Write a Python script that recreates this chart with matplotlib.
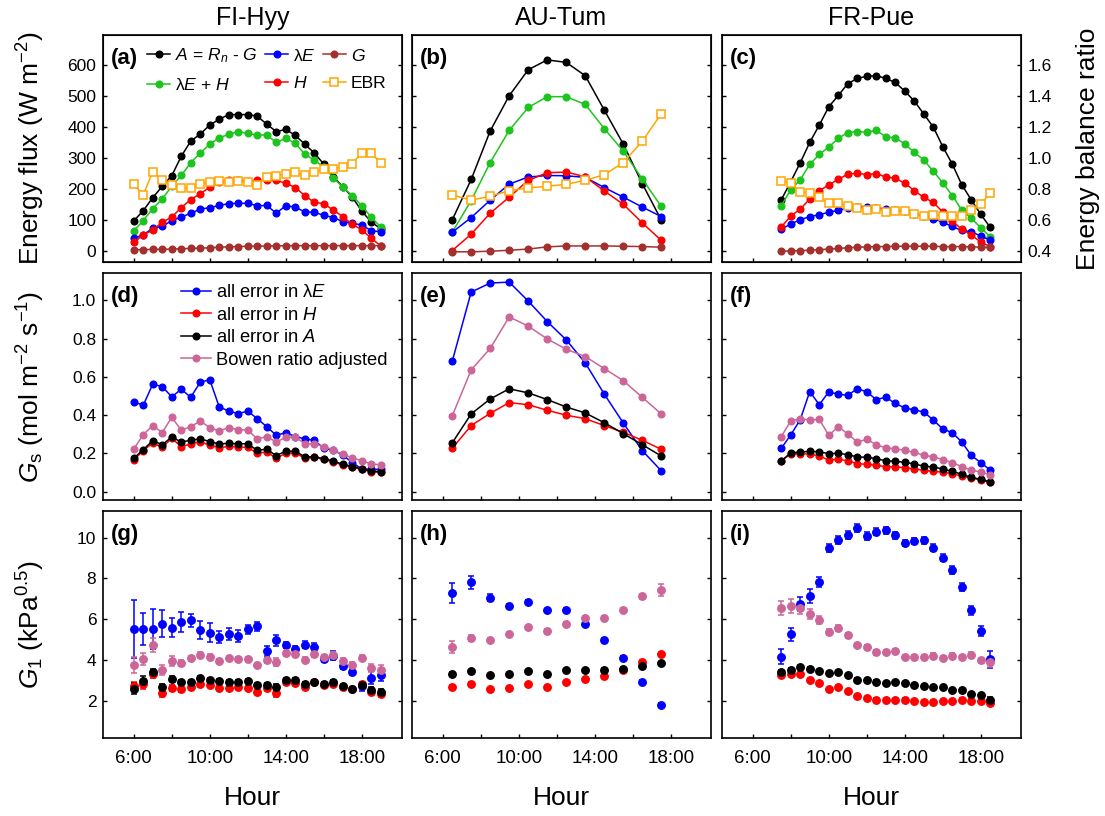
import numpy as np
import matplotlib as mpl
mpl.use('Agg')
import matplotlib.pyplot as plt
from matplotlib.ticker import FormatStrFormatter

plt.rcParams['font.family'] = ['Liberation Sans', 'DejaVu Sans']
plt.rcParams['mathtext.fontset'] = 'custom'
plt.rcParams['mathtext.rm'] = 'Liberation Sans'
plt.rcParams['mathtext.it'] = 'Liberation Sans:italic'
plt.rcParams['mathtext.bf'] = 'Liberation Sans:bold'

# ── data ─────────────────────────────────────────────────────────────────────
sites = ['FI-Hyy', 'AU-Tum', 'FR-Pue']
panel_tags = [['(a)', '(b)', '(c)'], ['(d)', '(e)', '(f)'], ['(g)', '(h)', '(i)']]

hours_hyy = np.arange(6.0, 19.01, 0.5)   # 27 half-hours
hours_tum = np.arange(6.5, 17.51, 1.0)   # 12 hours
hours_pue = np.arange(7.5, 18.51, 0.5)   # 23 half-hours

# energy fluxes (W m-2) and energy balance ratio
A_hyy   = [96, 129, 171, 208, 242, 305, 354, 377, 406, 425, 440, 440, 440, 435, 409, 385, 392, 373, 344, 316, 280, 239, 207, 173, 128, 92, 71]
LEH_hyy = [64, 97, 136, 167, 208, 243, 284, 316, 344, 365, 376, 385, 379, 374, 374, 350, 363, 347, 312, 293, 270, 236, 205, 178, 145, 108, 76]
LE_hyy  = [40, 51, 72, 78, 97, 108, 121, 134, 139, 146, 152, 153, 153, 145, 146, 121, 145, 141, 125, 124, 114, 107, 94, 88, 83, 64, 61]
H_hyy   = [27, 51, 66, 92, 108, 139, 165, 184, 205, 221, 227, 227, 225, 227, 227, 227, 218, 204, 178, 156, 152, 131, 110, 85, 67, 40, 15]
G_hyy   = [3, 3, 4, 4, 5, 6, 7, 8, 9, 11, 12, 13, 14, 14, 15, 15, 16, 16, 16, 16, 16, 16, 16, 16, 16, 16, 16]
EBR_hyy = [0.83, 0.76, 0.91, 0.855, 0.824, 0.807, 0.803, 0.829, 0.846, 0.85, 0.846, 0.852, 0.842, 0.827,
           0.878, 0.885, 0.896, 0.908, 0.887, 0.908, 0.928, 0.93, 0.941, 0.962, 1.033, 1.031, 0.967]

A_tum   = [99, 230, 387, 501, 585, 617, 609, 566, 455, 345, 217, 99]
LEH_tum = [59, 162, 285, 389, 463, 498, 498, 473, 395, 322, 232, 143]
LE_tum  = [59, 107, 163, 215, 238, 243, 242, 237, 204, 173, 141, 110]
H_tum   = [0, 53, 121, 173, 227, 252, 254, 239, 193, 150, 90, 33]
G_tum   = [-4, -4, -2, 1, 5, 12, 15, 15, 15, 14, 13, 11]
EBR_tum = [0.76, 0.727, 0.751, 0.788, 0.805, 0.816, 0.829, 0.855, 0.891, 0.969, 1.107, 1.285]

A_pue   = [164, 223, 284, 350, 406, 465, 502, 540, 557, 564, 566, 557, 544, 516, 484, 442, 400, 336, 280, 213, 164, 117, 75]
LEH_pue = [145, 197, 229, 279, 311, 335, 363, 382, 385, 383, 389, 368, 365, 345, 318, 293, 257, 219, 178, 131, 104, 74, 44]
LE_pue  = [69, 86, 100, 110, 116, 124, 130, 138, 142, 142, 139, 134, 131, 127, 118, 111, 103, 92, 78, 65, 61, 47, 34]
H_pue   = [76, 112, 134, 167, 194, 212, 231, 247, 250, 246, 249, 238, 234, 218, 194, 172, 156, 125, 96, 69, 51, 27, 13]
G_pue   = [-2, -1, 0, 1, 3, 5, 7, 9, 11, 12, 13, 13, 14, 14, 14, 14, 14, 13, 13, 13, 12, 11, 10]
EBR_pue = [0.852, 0.835, 0.781, 0.771, 0.745, 0.706, 0.706, 0.691, 0.676, 0.663, 0.671, 0.652, 0.659, 0.659,
           0.637, 0.624, 0.631, 0.626, 0.626, 0.626, 0.661, 0.702, 0.771]

# surface conductance Gs (mol m-2 s-1)
gs_le_hyy    = [0.471, 0.452, 0.562, 0.550, 0.496, 0.536, 0.494, 0.572, 0.586, 0.443, 0.422, 0.408, 0.422, 0.382,
                0.340, 0.295, 0.309, 0.288, 0.277, 0.269, 0.227, 0.218, 0.192, 0.152, 0.120, 0.117, 0.117]
gs_h_hyy     = [0.166, 0.215, 0.255, 0.232, 0.279, 0.236, 0.250, 0.262, 0.243, 0.230, 0.237, 0.234, 0.232, 0.201,
                0.208, 0.175, 0.201, 0.202, 0.176, 0.180, 0.169, 0.155, 0.140, 0.127, 0.117, 0.105, 0.101]
gs_a_hyy     = [0.175, 0.220, 0.267, 0.246, 0.286, 0.260, 0.269, 0.277, 0.262, 0.250, 0.253, 0.251, 0.251, 0.216,
                0.223, 0.188, 0.213, 0.211, 0.183, 0.183, 0.173, 0.161, 0.143, 0.131, 0.120, 0.108, 0.105]
gs_bowen_hyy = [0.223, 0.298, 0.346, 0.309, 0.389, 0.323, 0.340, 0.370, 0.335, 0.318, 0.335, 0.325, 0.323, 0.276,
                0.288, 0.260, 0.284, 0.286, 0.251, 0.251, 0.236, 0.218, 0.195, 0.178, 0.162, 0.145, 0.141]

gs_le_tum    = [0.681, 1.044, 1.091, 1.096, 0.997, 0.890, 0.794, 0.674, 0.511, 0.360, 0.215, 0.110]
gs_h_tum     = [0.227, 0.346, 0.410, 0.466, 0.455, 0.426, 0.400, 0.382, 0.346, 0.311, 0.269, 0.222]
gs_a_tum     = [0.255, 0.407, 0.485, 0.538, 0.517, 0.482, 0.443, 0.412, 0.361, 0.304, 0.246, 0.187]
gs_bowen_tum = [0.396, 0.637, 0.749, 0.914, 0.866, 0.799, 0.745, 0.707, 0.644, 0.581, 0.494, 0.407]

gs_le_pue    = [0.227, 0.297, 0.377, 0.524, 0.455, 0.522, 0.510, 0.504, 0.539, 0.522, 0.482, 0.494, 0.462, 0.438,
                0.428, 0.417, 0.375, 0.328, 0.309, 0.260, 0.190, 0.152, 0.113]
gs_h_pue     = [0.161, 0.199, 0.199, 0.197, 0.187, 0.166, 0.169, 0.162, 0.147, 0.143, 0.138, 0.131, 0.129, 0.126,
                0.119, 0.112, 0.106, 0.103, 0.094, 0.082, 0.072, 0.061, 0.049]
gs_a_pue     = [0.162, 0.202, 0.208, 0.211, 0.209, 0.199, 0.201, 0.194, 0.182, 0.180, 0.173, 0.162, 0.159, 0.154,
                0.145, 0.134, 0.129, 0.119, 0.106, 0.092, 0.075, 0.065, 0.052]
gs_bowen_pue = [0.288, 0.370, 0.382, 0.375, 0.379, 0.295, 0.340, 0.302, 0.260, 0.274, 0.246, 0.229, 0.225, 0.216,
                0.206, 0.190, 0.183, 0.168, 0.152, 0.131, 0.113, 0.103, 0.089]

# stomatal slope G1 (kPa^0.5) with error bars
g1_le_hyy        = [5.52, 5.52, 5.52, 5.77, 5.57, 5.87, 5.93, 5.46, 5.33, 5.13, 5.28, 5.18, 5.49, 5.64,
                    4.43, 4.95, 4.74, 4.54, 4.74, 4.62, 4.05, 4.21, 3.69, 3.38, 2.70, 3.13, 3.23]
g1_le_hyy_err    = [1.43, 0.78, 0.98, 0.66, 0.46, 0.49, 0.30, 0.43, 0.48, 0.30, 0.30, 0.30, 0.20, 0.23,
                    0.23, 0.28, 0.15, 0.15, 0.18, 0.20, 0.15, 0.22, 0.16, 0.15, 0.22, 0.30, 0.28]
g1_h_hyy         = [2.70, 2.79, 3.28, 2.38, 2.61, 2.57, 2.67, 2.79, 2.75, 2.61, 2.62, 2.67, 2.62, 2.44,
                    2.61, 2.38, 2.89, 2.87, 2.67, 2.89, 2.75, 2.82, 2.67, 2.57, 2.79, 2.44, 2.33]
g1_h_hyy_err     = [0.22, 0.22, 0.15, 0.20, 0.15, 0.15, 0.12, 0.12, 0.10, 0.10, 0.10, 0.10, 0.10, 0.10,
                    0.10, 0.20, 0.10, 0.10, 0.10, 0.10, 0.10, 0.10, 0.10, 0.10, 0.10, 0.12, 0.15]
g1_a_hyy         = [2.59, 2.98, 3.39, 2.66, 3.07, 2.92, 2.93, 3.10, 3.02, 2.95, 2.90, 2.93, 2.98, 2.77,
                    2.77, 2.66, 3.03, 3.02, 2.80, 2.93, 2.80, 2.93, 2.70, 2.57, 2.74, 2.54, 2.43]
g1_a_hyy_err     = [0.28, 0.20, 0.18, 0.15, 0.12, 0.10, 0.10, 0.10, 0.10, 0.10, 0.10, 0.10, 0.10, 0.10,
                    0.10, 0.15, 0.10, 0.10, 0.10, 0.10, 0.10, 0.10, 0.10, 0.10, 0.10, 0.12, 0.15]
g1_bowen_hyy     = [3.74, 4.03, 4.72, 3.49, 3.93, 3.85, 4.07, 4.25, 4.16, 3.93, 4.07, 4.05, 4.03, 3.75,
                    3.97, 3.89, 4.31, 4.28, 4.00, 4.28, 4.13, 4.25, 3.93, 3.75, 4.11, 3.61, 3.48]
g1_bowen_hyy_err = [0.40, 0.30, 0.33, 0.25, 0.25, 0.15, 0.13, 0.13, 0.13, 0.10, 0.10, 0.10, 0.10, 0.10,
                    0.13, 0.20, 0.13, 0.10, 0.13, 0.13, 0.13, 0.13, 0.15, 0.13, 0.13, 0.20, 0.28]

g1_le_tum        = [7.26, 7.80, 7.05, 6.64, 6.84, 6.43, 6.46, 5.74, 4.97, 4.10, 2.93, 1.79]
g1_le_tum_err    = [0.49, 0.30, 0.16, 0.10, 0.10, 0.08, 0.08, 0.08, 0.08, 0.08, 0.08, 0.08]
g1_h_tum         = [2.66, 2.82, 2.57, 2.62, 2.82, 2.67, 2.92, 3.05, 3.18, 3.51, 3.90, 4.28]
g1_h_tum_err     = [0.10, 0.08, 0.06, 0.06, 0.06, 0.06, 0.06, 0.06, 0.06, 0.06, 0.08, 0.10]
g1_a_tum         = [3.30, 3.44, 3.25, 3.31, 3.44, 3.31, 3.48, 3.51, 3.52, 3.57, 3.70, 3.82]
g1_a_tum_err     = [0.12, 0.08, 0.06, 0.06, 0.06, 0.06, 0.06, 0.06, 0.06, 0.06, 0.08, 0.08]
g1_bowen_tum     = [4.61, 5.08, 4.98, 5.28, 5.59, 5.41, 5.77, 6.07, 6.07, 6.44, 7.13, 7.41]
g1_bowen_tum_err = [0.30, 0.15, 0.10, 0.08, 0.08, 0.08, 0.08, 0.08, 0.08, 0.08, 0.12, 0.30]

g1_le_pue        = [4.15, 5.25, 6.74, 7.13, 7.82, 9.48, 9.89, 10.13, 10.48, 10.08, 10.30, 10.36, 10.11, 9.74,
                    9.82, 9.87, 9.51, 9.02, 8.41, 7.56, 6.44, 5.41, 4.02]
g1_le_pue_err    = [0.36, 0.33, 0.36, 0.33, 0.23, 0.20, 0.20, 0.18, 0.20, 0.20, 0.18, 0.18, 0.18, 0.15,
                    0.15, 0.18, 0.18, 0.18, 0.20, 0.20, 0.22, 0.25, 0.40]
g1_h_pue         = [3.25, 3.31, 3.31, 3.03, 2.87, 2.57, 2.64, 2.48, 2.21, 2.13, 2.05, 2.02, 2.03, 2.05,
                    1.97, 1.93, 1.93, 1.98, 1.97, 2.05, 2.00, 2.00, 1.89]
g1_h_pue_err     = [0.10] * 4 + [0.06] * 19
g1_a_pue         = [3.41, 3.49, 3.66, 3.56, 3.46, 3.34, 3.41, 3.26, 3.03, 3.00, 2.93, 2.87, 2.90, 2.84,
                    2.75, 2.69, 2.67, 2.66, 2.52, 2.51, 2.33, 2.26, 2.05]
g1_a_pue_err     = [0.10] * 4 + [0.06] * 18 + [0.12]
g1_bowen_pue     = [6.54, 6.64, 6.56, 6.23, 5.95, 5.38, 5.57, 5.21, 4.74, 4.61, 4.36, 4.38, 4.43, 4.15,
                    4.16, 4.16, 4.21, 4.10, 4.21, 4.16, 4.26, 3.98, 3.89]
g1_bowen_pue_err = [0.33, 0.36, 0.30, 0.25, 0.20, 0.15, 0.15, 0.13, 0.10, 0.10, 0.10, 0.10, 0.10, 0.10,
                    0.10, 0.10, 0.10, 0.10, 0.10, 0.10, 0.12, 0.12, 0.25]

# ── styles ───────────────────────────────────────────────────────────────────
C_A, C_LEH, C_LE, C_H, C_G, C_EBR = 'black', '#1DC41D', '#0000FF', '#FF0000', '#A3302E', '#FFA500'
C_BOWEN = '#CC6699'

hours = [hours_hyy, hours_tum, hours_pue]
flux = [
    dict(A=A_hyy, LEH=LEH_hyy, LE=LE_hyy, H=H_hyy, G=G_hyy, EBR=EBR_hyy),
    dict(A=A_tum, LEH=LEH_tum, LE=LE_tum, H=H_tum, G=G_tum, EBR=EBR_tum),
    dict(A=A_pue, LEH=LEH_pue, LE=LE_pue, H=H_pue, G=G_pue, EBR=EBR_pue),
]
gs = [
    (gs_le_hyy, gs_h_hyy, gs_a_hyy, gs_bowen_hyy),
    (gs_le_tum, gs_h_tum, gs_a_tum, gs_bowen_tum),
    (gs_le_pue, gs_h_pue, gs_a_pue, gs_bowen_pue),
]
g1 = [
    ((g1_le_hyy, g1_le_hyy_err), (g1_h_hyy, g1_h_hyy_err), (g1_a_hyy, g1_a_hyy_err), (g1_bowen_hyy, g1_bowen_hyy_err)),
    ((g1_le_tum, g1_le_tum_err), (g1_h_tum, g1_h_tum_err), (g1_a_tum, g1_a_tum_err), (g1_bowen_tum, g1_bowen_tum_err)),
    ((g1_le_pue, g1_le_pue_err), (g1_h_pue, g1_h_pue_err), (g1_a_pue, g1_a_pue_err), (g1_bowen_pue, g1_bowen_pue_err)),
]
g_colors = [C_LE, C_H, 'black', C_BOWEN]

FLUX_LIM = (-37, 697)
ebr_of = lambda f: 0.4 + f / 500.0

LW, MS = 1.1, 4.8
TICK_FS, LAB_FS = 12.5, 19

fig = plt.figure(figsize=(11.05, 8.16), dpi=100)
col_left = [0.0935, 0.3731, 0.6537]
row_bottom = [0.6789, 0.3873, 0.0956]
ax_w, ax_h = 0.2700, 0.2780


def style_axes(ax, r, c, right=True):
    for s in ax.spines.values():
        s.set_linewidth(1.2)
    ax.set_xlim(4.4, 20.1)
    ax.set_xticks([6, 8, 10, 12, 14, 16, 18])
    if r == 2:
        ax.set_xticklabels(['6:00', '', '10:00', '', '14:00', '', '18:00'])
    ax.tick_params(direction='in', length=3, width=1, top=False, right=right,
                   labelbottom=(r == 2), labelleft=(c == 0), labelsize=TICK_FS, pad=5)
    ax.tick_params(axis='x', labelsize=13.5, pad=9)
    ax.text(0.025, 0.895, panel_tags[r][c], transform=ax.transAxes, fontsize=16,
            fontweight='bold', va='center', ha='left', zorder=10)


for c in range(3):
    x = hours[c]

    # ── row 1: energy fluxes ────────────────────────────────────────────────
    ax = fig.add_axes([col_left[c], row_bottom[0], ax_w, ax_h])
    tw = ax.twinx()
    d = flux[c]
    hA, = ax.plot(x, d['A'], '-o', color=C_A, lw=LW, ms=MS)
    hLEH, = ax.plot(x, d['LEH'], '-o', color=C_LEH, lw=LW, ms=MS)
    hLE, = ax.plot(x, d['LE'], '-o', color=C_LE, lw=LW, ms=MS)
    hH, = ax.plot(x, d['H'], '-o', color=C_H, lw=LW, ms=MS)
    hG, = ax.plot(x, d['G'], '-o', color=C_G, lw=LW, ms=MS)
    hE, = tw.plot(x, d['EBR'], '-s', color=C_EBR, mfc='white', mew=1.1, lw=LW, ms=5.4)
    ax.set_ylim(*FLUX_LIM)
    tw.set_ylim(ebr_of(FLUX_LIM[0]), ebr_of(FLUX_LIM[1]))
    ax.set_yticks([0, 100, 200, 300, 400, 500, 600])
    tw.set_yticks([0.4, 0.6, 0.8, 1.0, 1.2, 1.4, 1.6])
    tw.yaxis.set_major_formatter(FormatStrFormatter('%.1f'))
    style_axes(ax, 0, c, right=False)
    tw.tick_params(direction='in', length=3, width=1, labelright=(c == 2), labelsize=TICK_FS, pad=5)
    ax.set_title(sites[c], fontsize=18, pad=7)
    if c == 0:
        ax.set_ylabel('Energy flux (W m$^{-2}$)', fontsize=LAB_FS)
        ax.yaxis.set_label_coords(-0.19, 0.5)
        tw.legend([hA, hLEH, hLE, hH, hG, hE],
                  ['$A$ = $R_n$ - $G$', 'λ$E$ + $H$', 'λ$E$', '$H$', '$G$', 'EBR'],
                  ncol=3, loc='upper left', bbox_to_anchor=(0.148, 0.95), frameon=False,
                  fontsize=12.6, handlelength=1.3, handletextpad=0.3, columnspacing=0.4,
                  labelspacing=0.68, borderpad=0, borderaxespad=0)
    if c == 2:
        tw.set_ylabel('Energy balance ratio', fontsize=LAB_FS)
        tw.yaxis.set_label_coords(1.185, 0.5)

    # ── row 2: surface conductance ──────────────────────────────────────────
    ax = fig.add_axes([col_left[c], row_bottom[1], ax_w, ax_h])
    handles = []
    for ys, col in zip(gs[c], g_colors):
        h, = ax.plot(x, ys, '-o', color=col, lw=LW, ms=MS)
        handles.append(h)
    ax.set_ylim(-0.043, 1.143)
    ax.set_yticks([0.0, 0.2, 0.4, 0.6, 0.8, 1.0])
    ax.yaxis.set_major_formatter(FormatStrFormatter('%.1f'))
    style_axes(ax, 1, c)
    if c == 0:
        ax.set_ylabel(r'$G_\mathrm{s}$ (mol m$^{-2}$ s$^{-1}$)', fontsize=LAB_FS)
        ax.yaxis.set_label_coords(-0.19, 0.5)
        ax.legend(handles, ['all error in λ$E$', 'all error in $H$', 'all error in $A$',
                            'Bowen ratio adjusted'],
                  loc='upper left', bbox_to_anchor=(0.262, 0.952), frameon=False,
                  fontsize=13.2, handlelength=1.6, handletextpad=0.3, labelspacing=0.3,
                  borderpad=0, borderaxespad=0)

    # ── row 3: G1 ───────────────────────────────────────────────────────────
    ax = fig.add_axes([col_left[c], row_bottom[2], ax_w, ax_h])
    for (ys, es), col in zip(g1[c], g_colors):
        ax.errorbar(x, ys, yerr=es, fmt='o', color=col, ms=5.4, elinewidth=1.1,
                    capsize=2.5, capthick=1.1)
    ax.set_ylim(0.16, 11.3)
    ax.set_yticks([2, 4, 6, 8, 10])
    style_axes(ax, 2, c)
    ax.set_xlabel('Hour', fontsize=LAB_FS)
    ax.xaxis.set_label_coords(0.5, -0.21)
    if c == 0:
        ax.set_ylabel(r'$G_1$ (kPa$^{0.5}$)', fontsize=LAB_FS)
        ax.yaxis.set_label_coords(-0.19, 0.5)

fig.savefig('out.png', dpi=100)
